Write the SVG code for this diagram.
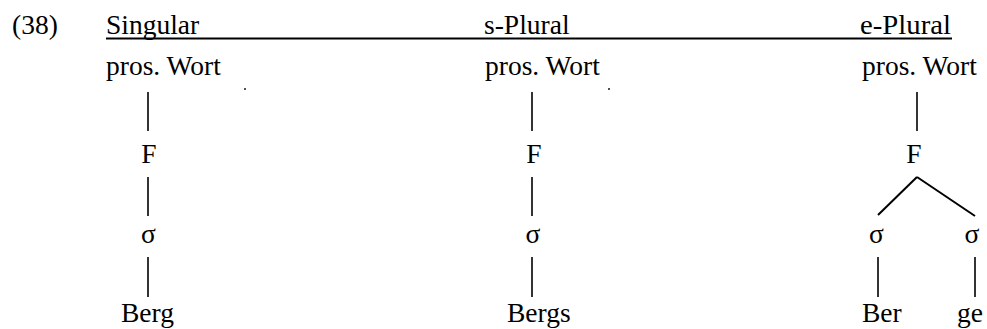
<svg xmlns="http://www.w3.org/2000/svg" width="987" height="329" viewBox="0 0 987 329">
<style>
text { font-family: "Liberation Serif", "Times New Roman", serif; font-size: 27.5px; fill: #000; }
.m { text-anchor: middle; }
.e { stroke: #000; stroke-width: 1.6; fill: none; }
.b { stroke: #000; stroke-width: 2; fill: none; }
</style>
<rect width="987" height="329" fill="#fff"/>
<g id="header">
<text x="12" y="34">(38)</text>
<text x="106" y="34">Singular</text>
<text x="484" y="34">s-Plural</text>
<text x="860" y="34" textLength="91" lengthAdjust="spacingAndGlyphs">e-Plural</text>
<line x1="106" y1="38.5" x2="952" y2="38.5" stroke="#000" stroke-width="1.8"/>
<circle cx="245" cy="89" r="0.9" fill="#000"/>
<circle cx="609" cy="89" r="0.9" fill="#000"/>
</g>
<g id="connectors">
<line class="e" x1="148" y1="92" x2="148" y2="131"/>
<line class="e" x1="148" y1="177" x2="148" y2="216"/>
<line class="e" x1="148" y1="257" x2="148" y2="297"/>
<line class="e" x1="532" y1="92" x2="532" y2="131"/>
<line class="e" x1="532" y1="177" x2="532" y2="216"/>
<line class="e" x1="532" y1="257" x2="532" y2="297"/>
<line class="e" x1="917" y1="92" x2="917" y2="131"/>
<line class="b" x1="917" y1="177" x2="878" y2="215"/>
<line class="b" x1="917" y1="177" x2="975" y2="216"/>
<line class="e" x1="878" y1="257" x2="878" y2="297"/>
<line class="e" x1="975" y1="257" x2="975" y2="297"/>
</g>
<g id="sg-wort"><text x="106" y="75">pros. Wort</text></g>
<g id="sg-F"><text class="m" x="149" y="163">F</text></g>
<g id="sg-sigma"><text class="m" x="148.5" y="243">σ</text></g>
<g id="sg-berg"><text x="121" y="322">Berg</text></g>
<g id="s-wort"><text x="485" y="75">pros. Wort</text></g>
<g id="s-F"><text class="m" x="534" y="163">F</text></g>
<g id="s-sigma"><text class="m" x="533" y="243">σ</text></g>
<g id="s-bergs"><text x="507" y="322">Bergs</text></g>
<g id="e-wort"><text x="862" y="75">pros. Wort</text></g>
<g id="e-F"><text class="m" x="914" y="163">F</text></g>
<g id="e-sigma1"><text class="m" x="876.5" y="243">σ</text></g>
<g id="e-sigma2"><text class="m" x="972" y="243">σ</text></g>
<g id="e-ber"><text x="862" y="322">Ber</text></g>
<g id="e-ge"><text x="957" y="322">ge</text></g>
</svg>
